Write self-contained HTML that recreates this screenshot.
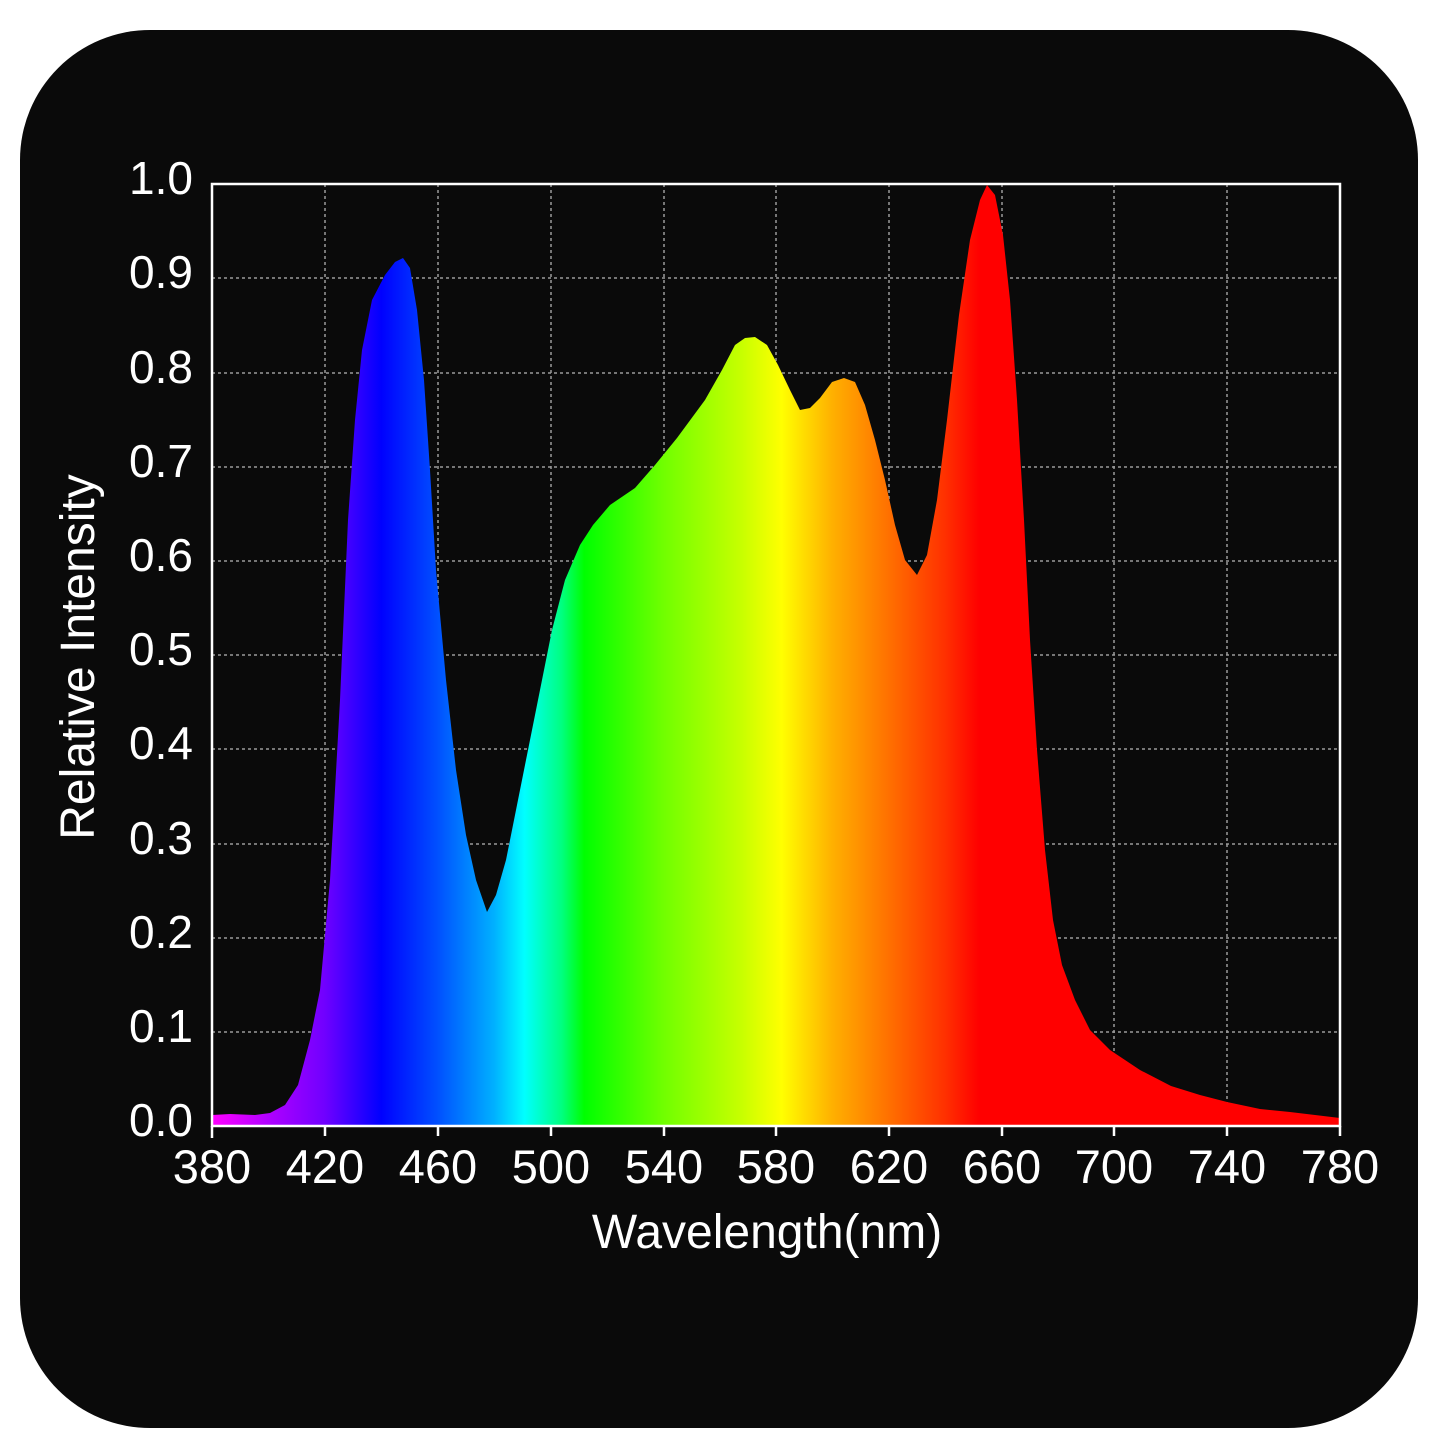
<!DOCTYPE html>
<html><head><style>html,body{margin:0;padding:0;background:#fff}svg{display:block}</style></head>
<body>
<svg width="1445" height="1445" viewBox="0 0 1445 1445" xmlns="http://www.w3.org/2000/svg" font-family="Liberation Sans, sans-serif">
<defs>
<linearGradient id="sp" gradientUnits="userSpaceOnUse" x1="212" y1="0" x2="1340" y2="0">
<stop offset="0" stop-color="#ff00ff"/>
<stop offset="0.05" stop-color="#b000ff"/>
<stop offset="0.10" stop-color="#7000ff"/>
<stop offset="0.15" stop-color="#0000ff"/>
<stop offset="0.20" stop-color="#0050ff"/>
<stop offset="0.25" stop-color="#00b0ff"/>
<stop offset="0.277" stop-color="#00ffff"/>
<stop offset="0.31" stop-color="#00ff80"/>
<stop offset="0.33" stop-color="#00ff00"/>
<stop offset="0.40" stop-color="#70ff00"/>
<stop offset="0.47" stop-color="#c8ff00"/>
<stop offset="0.505" stop-color="#ffff00"/>
<stop offset="0.55" stop-color="#ffb000"/>
<stop offset="0.60" stop-color="#ff7000"/>
<stop offset="0.65" stop-color="#ff3000"/>
<stop offset="0.68" stop-color="#ff0000"/>
<stop offset="1" stop-color="#ff0000"/>
</linearGradient>
</defs>
<rect x="20" y="30" width="1398" height="1398" rx="130" ry="130" fill="#0a0a0a"/>
<g stroke="#9a9a9a" stroke-width="1.5" stroke-dasharray="3,3">
<line x1="325" y1="184" x2="325" y2="1126"/><line x1="438" y1="184" x2="438" y2="1126"/>
<line x1="551" y1="184" x2="551" y2="1126"/><line x1="664" y1="184" x2="664" y2="1126"/>
<line x1="776" y1="184" x2="776" y2="1126"/><line x1="889" y1="184" x2="889" y2="1126"/>
<line x1="1002" y1="184" x2="1002" y2="1126"/><line x1="1114" y1="184" x2="1114" y2="1126"/>
<line x1="1227" y1="184" x2="1227" y2="1126"/>
<line x1="212" y1="278" x2="1340" y2="278"/><line x1="212" y1="373" x2="1340" y2="373"/>
<line x1="212" y1="467" x2="1340" y2="467"/><line x1="212" y1="561" x2="1340" y2="561"/>
<line x1="212" y1="655" x2="1340" y2="655"/><line x1="212" y1="749" x2="1340" y2="749"/>
<line x1="212" y1="844" x2="1340" y2="844"/><line x1="212" y1="938" x2="1340" y2="938"/>
<line x1="212" y1="1032" x2="1340" y2="1032"/>
</g>
<path fill="url(#sp)" d="M212,1126 L212,1115 L230,1114 L255,1115 L270,1113 L285,1105 L298,1085 L310,1040 L320,990 L330,880 L340,700 L348,520 L355,420 L362,350 L372,300 L385,275 L395,262 L403,258 L410,268 L417,310 L424,380 L430,470 L436,570 L446,680 L456,770 L466,835 L476,880 L487,912 L496,895 L506,860 L516,810 L528,750 L540,690 L552,630 L565,580 L580,545 L593,525 L610,505 L635,488 L655,465 L677,438 L705,400 L722,370 L735,345 L745,338 L755,337 L767,345 L778,365 L790,390 L800,410 L810,408 L820,398 L832,382 L844,378 L855,382 L865,405 L875,440 L885,480 L895,525 L905,560 L917,575 L927,555 L937,500 L947,420 L959,315 L970,240 L980,200 L987,185 L995,195 L1003,235 L1010,300 L1017,400 L1024,520 L1030,640 L1037,750 L1045,850 L1053,920 L1062,965 L1075,1000 L1090,1030 L1110,1050 L1140,1070 L1171,1086 L1200,1095 L1227,1102 L1260,1109 L1290,1112 L1315,1115 L1340,1118 L1340,1126 Z"/>
<rect x="212" y="184" width="1128" height="942" fill="none" stroke="#ffffff" stroke-width="2.5"/>
<g stroke="#fff" stroke-width="2.5">
<line x1="212" y1="1126" x2="212" y2="1138"/><line x1="325" y1="1126" x2="325" y2="1136"/><line x1="438" y1="1126" x2="438" y2="1136"/><line x1="551" y1="1126" x2="551" y2="1136"/><line x1="664" y1="1126" x2="664" y2="1136"/><line x1="776" y1="1126" x2="776" y2="1136"/><line x1="889" y1="1126" x2="889" y2="1136"/><line x1="1002" y1="1126" x2="1002" y2="1136"/><line x1="1114" y1="1126" x2="1114" y2="1136"/><line x1="1227" y1="1126" x2="1227" y2="1136"/><line x1="1340" y1="1126" x2="1340" y2="1136"/>
</g>
<g fill="#fff" font-size="46" text-anchor="end">
<text x="193" y="194">1.0</text><text x="193" y="288">0.9</text><text x="193" y="383">0.8</text>
<text x="193" y="477">0.7</text><text x="193" y="571">0.6</text><text x="193" y="665">0.5</text>
<text x="193" y="759">0.4</text><text x="193" y="854">0.3</text><text x="193" y="948">0.2</text>
<text x="193" y="1042">0.1</text><text x="193" y="1136">0.0</text>
</g>
<g fill="#fff" font-size="47" text-anchor="middle">
<text x="212" y="1183">380</text><text x="325" y="1183">420</text><text x="438" y="1183">460</text>
<text x="551" y="1183">500</text><text x="664" y="1183">540</text><text x="776" y="1183">580</text>
<text x="889" y="1183">620</text><text x="1002" y="1183">660</text><text x="1114" y="1183">700</text>
<text x="1227" y="1183">740</text><text x="1340" y="1183">780</text>
<text x="767" y="1248" font-size="48">Wavelength(nm)</text>
<text transform="translate(94,657) rotate(-90)" font-size="48">Relative Intensity</text>
</g>
</svg>
</body></html>
